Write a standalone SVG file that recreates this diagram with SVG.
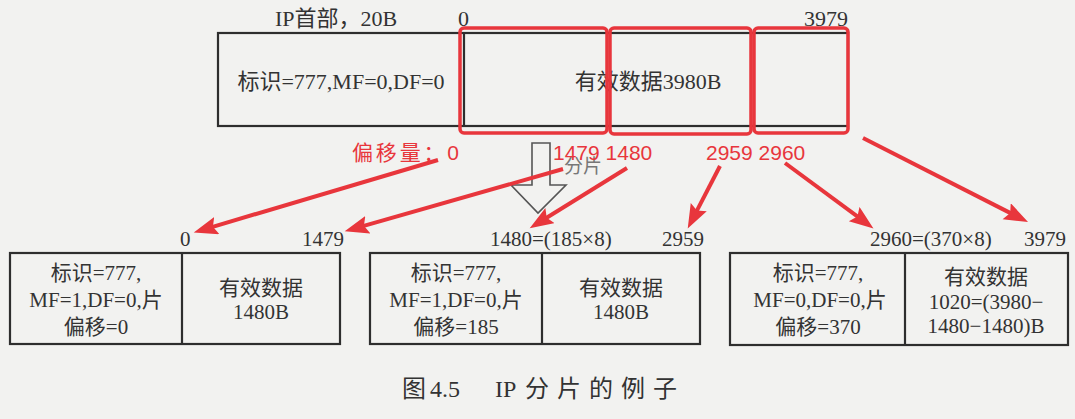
<svg xmlns="http://www.w3.org/2000/svg" width="1075" height="419" viewBox="0 0 1075 419">
<style>
.box{fill:none;stroke:#2e2e2e;stroke-width:2.2}
.t{font-family:"Liberation Serif","Noto Sans CJK SC",serif;font-size:21px;fill:#333}
.tl{font-family:"Liberation Serif","Noto Sans CJK SC",serif;font-size:22px;fill:#333}
.mid{text-anchor:middle}
.end{text-anchor:end}
.red{font-family:"Liberation Sans","Noto Sans CJK SC",sans-serif;font-size:21px;fill:#e8363c}
.hl{fill:none;stroke:#e8363c;stroke-width:3.5}
.arr{stroke:#e8363c;stroke-width:4;fill:none;marker-end:url(#ah)}
.cap{font-family:"Liberation Serif","Noto Sans CJK SC",serif;font-size:24px;fill:#333}
</style>
<defs>
<marker id="ah" markerUnits="userSpaceOnUse" markerWidth="26" markerHeight="20" refX="6" refY="9" orient="auto">
<path d="M0,0 L24,9 L0,18 L4,9 Z" fill="#e8363c"/>
</marker>
</defs>
<rect width="1075" height="419" fill="#f2f2f0"/>

<g id="original">
<text class="tl" x="275" y="26">IP首部，20B</text>
<text class="tl" x="458" y="26">0</text>
<text class="tl end" x="848" y="26">3979</text>
<rect class="box" x="218" y="33" width="630" height="93"/>
<line class="box" x1="464" y1="33" x2="464" y2="126"/>
<text class="tl mid" x="341" y="89">标识=777,MF=0,DF=0</text>
<text class="tl mid" x="648" y="89">有效数据3980B</text>
</g>

<g id="highlights">
<rect class="hl" x="460" y="28" width="147" height="105" rx="4"/>
<rect class="hl" x="610" y="28" width="141" height="106" rx="4"/>
<rect class="hl" x="754" y="28" width="94" height="105" rx="4"/>
</g>

<g id="split-arrow">
<polygon points="532,143 550,143 550,185 566,185 538,213 511,185 532,185" fill="none" stroke="#555" stroke-width="1.6"/>
<text x="564" y="173" font-family="Noto Sans CJK SC,sans-serif" font-size="19" fill="#777">分片</text>
</g>

<g id="offset-labels">
<text class="red" x="352" y="160" font-size="22" textLength="107" lengthAdjust="spacing">偏移量：0</text>
<text class="red" x="553" y="160">1479 1480</text>
<text class="red" x="706" y="160">2959 2960</text>
</g>

<g id="fragment1">
<text class="t" x="180" y="246">0</text>
<text class="t end" x="344" y="246">1479</text>
<rect class="box" x="10" y="253" width="330" height="91"/>
<line class="box" x1="182" y1="253" x2="182" y2="344"/>
<text class="t mid" x="96" y="280">标识=777,</text>
<text class="t mid" x="96" y="307">MF=1,DF=0,片</text>
<text class="t mid" x="96" y="334">偏移=0</text>
<text class="t mid" x="261" y="295">有效数据</text>
<text class="t mid" x="261" y="319">1480B</text>
</g>

<g id="fragment2">
<text class="t" x="490" y="246">1480=(185×8)</text>
<text class="t end" x="704" y="246">2959</text>
<rect class="box" x="370" y="253" width="330" height="91"/>
<line class="box" x1="542" y1="253" x2="542" y2="344"/>
<text class="t mid" x="456" y="280">标识=777,</text>
<text class="t mid" x="456" y="307">MF=1,DF=0,片</text>
<text class="t mid" x="456" y="334">偏移=185</text>
<text class="t mid" x="621" y="295">有效数据</text>
<text class="t mid" x="621" y="319">1480B</text>
</g>

<g id="fragment3">
<text class="t" x="870" y="246">2960=(370×8)</text>
<text class="t end" x="1066" y="246">3979</text>
<rect class="box" x="730" y="253" width="338" height="92"/>
<line class="box" x1="905" y1="253" x2="905" y2="345"/>
<text class="t mid" x="818" y="280">标识=777,</text>
<text class="t mid" x="820" y="307">MF=0,DF=0,片</text>
<text class="t mid" x="818" y="334">偏移=370</text>
<text class="t mid" x="986" y="284">有效数据</text>
<text class="t mid" x="986" y="309">1020=(3980−</text>
<text class="t mid" x="986" y="333">1480−1480)B</text>
</g>

<g id="connectors">
<line class="arr" x1="438" y1="160" x2="211" y2="227.3"/>
<line class="arr" x1="563" y1="169" x2="362" y2="226.4"/>
<line class="arr" x1="627" y1="168" x2="545" y2="218.7"/>
<line class="arr" x1="720" y1="166" x2="696" y2="212.4"/>
<line class="arr" x1="785" y1="163" x2="859" y2="217.7"/>
<line class="arr" x1="863" y1="138" x2="1012" y2="213.9"/>
</g>

<g id="caption">
<text class="cap" x="402" y="397">图</text>
<text class="cap" x="430" y="397">4.5</text>
<text class="cap" x="495" y="397">IP</text>
<text class="cap" x="525" y="397" textLength="152" lengthAdjust="spacing">分片的例子</text>
</g>
</svg>
